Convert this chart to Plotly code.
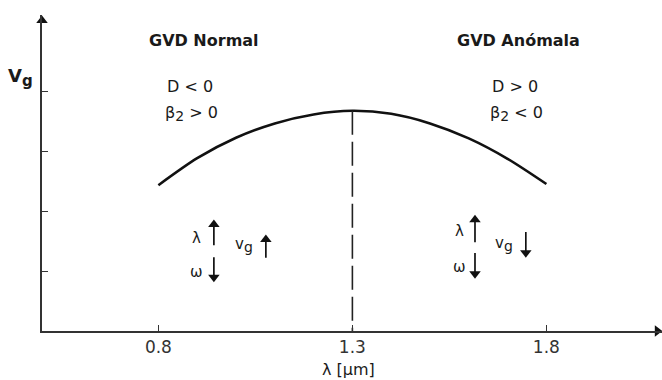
import plotly.graph_objects as go

# Group velocity vs. wavelength around the zero-dispersion point
wavelength_um = [0.8, 0.9, 1.0, 1.1, 1.2, 1.3, 1.4, 1.5, 1.6, 1.7, 1.8]
group_velocity = [2.43, 2.88, 3.22, 3.46, 3.61, 3.67, 3.62, 3.46, 3.21, 2.87, 2.45]
zero_dispersion_um = 1.3
x_ticks = [0.8, 1.3, 1.8]
x_tick_labels = ["0.8", "1.3", "1.8"]
y_ticks = [1, 2, 3, 4]

FONT = "DejaVu Sans"
INK = "#1a1a1a"
AXIS = "#333333"

X0, X1 = 0.5, 2.098
Y0, Y1 = 0.0, 5.267
HEAD = 0.075  # half arrowhead height in y units

fig = go.Figure()

# vg(λ) curve
fig.add_trace(go.Scatter(
    x=wavelength_um, y=group_velocity, mode="lines",
    line=dict(color="#111111", width=2.6, shape="spline", smoothing=0.8),
    hoverinfo="skip", showlegend=False,
))

# dashed marker at the zero-dispersion wavelength
peak = max(group_velocity)
fig.add_trace(go.Scatter(
    x=[zero_dispersion_um, zero_dispersion_um], y=[peak, 0],
    mode="lines", line=dict(color="#222222", width=1.6, dash="24px,7px"),
    hoverinfo="skip", showlegend=False,
))

# arrowheads closing both axes
fig.add_trace(go.Scatter(
    x=[X0, X1 - 0.012], y=[Y1 - 0.09, 0],
    mode="markers",
    marker=dict(symbol=["triangle-up", "triangle-right"], size=10, color="#111111"),
    cliponaxis=False, hoverinfo="skip", showlegend=False,
))


def arrow(x, y_tail, y_head):
    up = y_head > y_tail
    body_end = y_head - HEAD if up else y_head + HEAD
    fig.add_trace(go.Scatter(
        x=[x, x], y=[y_tail, body_end], mode="lines",
        line=dict(color="#111111", width=1.7),
        hoverinfo="skip", showlegend=False,
    ))
    fig.add_trace(go.Scatter(
        x=[x], y=[body_end], mode="markers",
        marker=dict(symbol="triangle-up" if up else "triangle-down", size=10, color="#111111"),
        hoverinfo="skip", showlegend=False,
    ))


annotations = []

def label(text, x, y, size=16, xref="x", yref="y", bold=False):
    annotations.append(dict(
        text=f"<b>{text}</b>" if bold else text, x=x, y=y, xref=xref, yref=yref,
        showarrow=False, xanchor="center", yanchor="middle",
        font=dict(family=FONT, size=size, color=INK),
    ))

def sub(base, s, size):
    return f"{base}<sub><span style='font-size:{size}px'>{s}</span></sub>"

# region headings
label("GVD Normal", 0.918, 4.85, size=16, bold=True)
label("GVD Anómala", 1.727, 4.85, size=16, bold=True)

# dispersion signs
label("D < 0", 0.881, 4.07)
label(sub("β", "2", 14) + " > 0", 0.885, 3.62)
label("D > 0", 1.719, 4.07)
label(sub("β", "2", 14) + " < 0", 1.724, 3.62)

# normal-dispersion trends
label("λ", 0.897, 1.55, size=15)
arrow(0.943, 1.43, 1.85)
label("ω", 0.899, 0.98, size=15)
arrow(0.943, 1.23, 0.82)
label(sub("v", "g", 14), 1.02, 1.43, size=15)
arrow(1.077, 1.22, 1.60)

# anomalous-dispersion trends
label("λ", 1.575, 1.67, size=15)
arrow(1.616, 1.48, 1.93)
label("ω", 1.575, 1.07, size=15)
arrow(1.616, 1.30, 0.88)
label(sub("v", "g", 14), 1.69, 1.45, size=15)
arrow(1.747, 1.65, 1.23)

# axis names
label(sub("V", "g", 15), -0.035, 4.22, size=18, xref="paper", bold=True)
label("λ [µm]", 1.291, -0.123, size=16, yref="paper")

fig.update_layout(
    width=662, height=380,
    margin=dict(l=42, r=0, t=15, b=49),
    paper_bgcolor="white", plot_bgcolor="white",
    showlegend=False, hovermode=False,
    annotations=annotations,
    xaxis=dict(
        range=[X0, X1], showgrid=False, zeroline=False,
        showline=True, linecolor=AXIS, linewidth=1.6,
        ticks="inside", ticklen=6, tickwidth=1.4, tickcolor=AXIS,
        tickvals=x_ticks, ticktext=x_tick_labels,
        tickfont=dict(family=FONT, size=17, color="#333333"),
    ),
    yaxis=dict(
        range=[Y0, Y1], showgrid=False, zeroline=False,
        showline=True, linecolor=AXIS, linewidth=1.6,
        ticks="inside", ticklen=6, tickwidth=1.4, tickcolor=AXIS,
        tickvals=y_ticks, showticklabels=False,
    ),
)

fig.write_html("out.html", config={"displayModeBar": False})
